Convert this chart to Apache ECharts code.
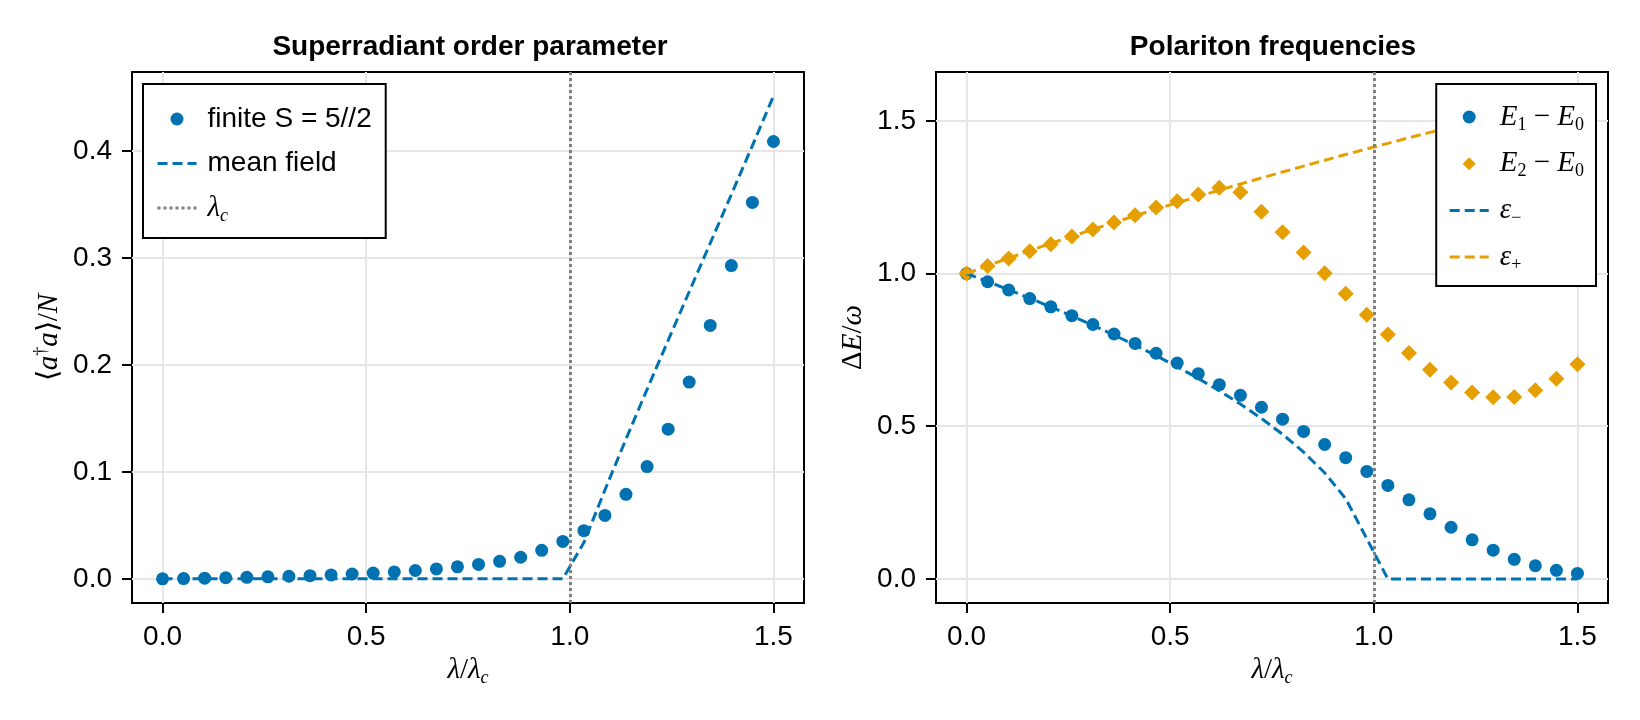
<!DOCTYPE html>
<html>
<head>
<meta charset="utf-8">
<title>Dicke model: order parameter and polariton frequencies</title>
<script src="https://cdn.jsdelivr.net/npm/echarts@6/dist/echarts.min.js"></script>
<style>
    html, body { margin: 0; padding: 0; background: #fff; }
    #chart { width: 1640px; height: 720px; }
</style>
</head>
<body>
<div id="chart"></div>
<script>
//coupling grid, lambda / lambda_c
var lambdaGrid = [0, 0.0517, 0.1034, 0.1552, 0.2069, 0.2586, 0.3103, 0.3621, 0.4138, 0.4655,
    0.5172, 0.5690, 0.6207, 0.6724, 0.7241, 0.7759, 0.8276, 0.8793, 0.9310, 0.9828,
    1.0345, 1.0862, 1.1379, 1.1897, 1.2414, 1.2931, 1.3448, 1.3966, 1.4483, 1.5];
var lambdaC = 1.0;
//<a+a>/N, finite S = 5/2
var photonFinite = [0.0000, 0.0002, 0.0006, 0.0010, 0.0014, 0.0019, 0.0024, 0.0030, 0.0037, 0.0045,
    0.0054, 0.0065, 0.0078, 0.0093, 0.0112, 0.0135, 0.0164, 0.0202, 0.0267, 0.0350,
    0.0450, 0.0593, 0.0790, 0.1050, 0.1400, 0.1840, 0.2370, 0.2930, 0.3520, 0.4090];
//<a+a>/N, mean field
var photonMeanField = [0, 0, 0, 0, 0, 0, 0, 0, 0, 0,
    0, 0, 0, 0, 0, 0, 0, 0, 0, 0,
    0.0339, 0.0831, 0.1307, 0.1772, 0.2230, 0.2685, 0.3139, 0.3594, 0.4052, 0.4514];
//E1 - E0
var gapOne = [1.000, 0.973, 0.946, 0.918, 0.891, 0.862, 0.833, 0.802, 0.771, 0.739,
    0.707, 0.672, 0.636, 0.601, 0.562, 0.523, 0.483, 0.440, 0.397, 0.352,
    0.306, 0.259, 0.213, 0.169, 0.128, 0.094, 0.064, 0.043, 0.028, 0.018];
//E2 - E0
var gapTwo = [1.000, 1.025, 1.049, 1.073, 1.096, 1.121, 1.144, 1.167, 1.191, 1.216,
    1.237, 1.259, 1.281, 1.266, 1.202, 1.135, 1.069, 1.001, 0.934, 0.865,
    0.800, 0.740, 0.685, 0.643, 0.610, 0.595, 0.596, 0.618, 0.655, 0.703];
//polariton branches
var epsMinus = [1.0000, 0.9738, 0.9469, 0.9191, 0.8906, 0.8610, 0.8305, 0.7987, 0.7656, 0.7311,
    0.6948, 0.6565, 0.6159, 0.5724, 0.5252, 0.4734, 0.4152, 0.3474, 0.2626, 0.1313,
    0, 0, 0, 0, 0, 0, 0, 0, 0, 0];
var epsPlus = [1.0000, 1.0255, 1.0504, 1.0748, 1.0986, 1.1219, 1.1447, 1.1671, 1.1890, 1.2106,
    1.2318, 1.2526, 1.2731, 1.2932, 1.3131, 1.3326, 1.3519, 1.3709, 1.3896, 1.4081,
    1.4264, 1.4444, 1.4622, 1.4798, 1.4971, 1.5143, 1.5313, 1.5481, 1.5647, 1.5811];
//tick labels
var lambdaTicks = [0, 0.5, 1.0, 1.5];
var photonTicks = [0, 0.1, 0.2, 0.3, 0.4];
var energyTicks = [0, 0.5, 1.0, 1.5];

var BLUE = '#0072B2';
var ORANGE = '#E69F00';
var GRAY = '#808080';
var SANS = 'Liberation Sans';
var SERIF = 'Liberation Serif';
//diamond legend icon, the corner points keep it from being stretched to 39x13
var DIAMOND_ICON = 'path://M0,0L0,0M39,13L39,13M19.5,-0.5L26.5,6.5L19.5,13.5L12.5,6.5Z';

//pairs for the library
function pairs(ys) {
    return lambdaGrid.map(function (x, i) {
        return [x, ys[i]];
    });
}

//latex-ish rich text
var mathRich = {
    it: { fontFamily: SERIF, fontStyle: 'italic', fontSize: 29, lineHeight: 34, color: '#000' },
    rm: { fontFamily: SERIF, fontSize: 29, lineHeight: 34, color: '#000' },
    sub: { fontFamily: SERIF, fontStyle: 'italic', fontSize: 18, lineHeight: 12, verticalAlign: 'bottom', color: '#000' },
    subrm: { fontFamily: SERIF, fontSize: 18, lineHeight: 12, verticalAlign: 'bottom', color: '#000' },
    sup: { fontFamily: SERIF, fontSize: 18, lineHeight: 14, verticalAlign: 'top', color: '#000' }
};

var legendLabels = {
    'finite S = 5//2': 'finite S = 5//2',
    'mean field': 'mean field',
    'λc': '{it|λ}{sub|c}',
    'E1−E0': '{it|E}{subrm|1}{rm| − }{it|E}{subrm|0}',
    'E2−E0': '{it|E}{subrm|2}{rm| − }{it|E}{subrm|0}',
    'ε−': '{it|ε}{subrm|−}',
    'ε+': '{it|ε}{subrm|+}'
};

//legend entries of line series: only the line, no dot
function lineEntry(name) {
    return { name: name, itemStyle: { opacity: 0 } };
}

function xAxisFor(gridIndex) {
    return {
        type: 'value',
        gridIndex: gridIndex,
        min: -0.075,
        max: 1.575,
        name: '{it|λ}{rm|/}{it|λ}{sub|c}',
        nameLocation: 'middle',
        nameGap: 46,
        nameTextStyle: { rich: mathRich },
        axisLine: { show: false, onZero: false },
        axisTick: { show: true, inside: false, length: 10, customValues: lambdaTicks, lineStyle: { color: '#000', width: 2 } },
        axisLabel: {
            customValues: lambdaTicks, margin: 20, fontSize: 28, fontFamily: SANS, color: '#000',
            formatter: function (v) { return v.toFixed(1); }
        },
        splitLine: { show: true, lineStyle: { color: '#e6e6e6', width: 2 } }
    };
}

function yAxisFor(gridIndex, min, max, ticks, name) {
    return {
        type: 'value',
        gridIndex: gridIndex,
        min: min,
        max: max,
        name: name,
        nameLocation: 'middle',
        nameRotate: 90,
        nameGap: 66,
        nameTextStyle: { rich: mathRich },
        axisLine: { show: false, onZero: false },
        axisTick: { show: true, inside: false, length: 10, customValues: ticks, lineStyle: { color: '#000', width: 2 } },
        axisLabel: {
            customValues: ticks, margin: 20, fontSize: 28, fontFamily: SANS, color: '#000',
            formatter: function (v) { return v.toFixed(1); }
        },
        splitLine: { show: true, lineStyle: { color: '#e6e6e6', width: 2 } }
    };
}

function legendFor(items, pos) {
    var lg = {
        orient: 'vertical',
        data: items,
        top: 84,
        padding: pos.padding,
        itemWidth: 39,
        itemHeight: 13,
        itemGap: pos.gap,
        symbolKeepAspect: true,
        borderColor: '#000',
        borderWidth: 2,
        borderRadius: 0,
        backgroundColor: '#fff',
        selectedMode: false,
        lineStyle: { width: 3 },
        textStyle: {
            fontFamily: SANS, fontSize: 28, color: '#000', lineHeight: 34,
            padding: [0, 0, 0, 6], rich: mathRich
        },
        formatter: function (name) {
            return legendLabels[name];
        }
    };
    if (pos.left !== undefined) lg.left = pos.left;
    if (pos.right !== undefined) lg.right = pos.right;
    return lg;
}

function vline(name, gridIndex) {
    return {
        name: name,
        type: 'line',
        xAxisIndex: gridIndex,
        yAxisIndex: gridIndex,
        data: [],
        symbol: 'none',
        itemStyle: { color: GRAY },
        lineStyle: { color: GRAY, width: 3, type: [3, 3] },
        z: 3,
        markLine: {
            silent: true,
            symbol: ['none', 'none'],
            label: { show: false },
            lineStyle: { color: GRAY, width: 3, type: [3, 3] },
            data: [{ xAxis: lambdaC }]
        }
    };
}

var chart = echarts.init(document.getElementById('chart'));
var option = {
    animation: false,
    backgroundColor: '#fff',
    title: [{
        text: 'Superradiant order parameter',
        left: 470,
        top: 33,
        textAlign: 'center',
        padding: 0,
        textStyle: { fontFamily: SANS, fontSize: 28, fontWeight: 'bold', color: '#000' }
    }, {
        text: 'Polariton frequencies',
        left: 1273,
        top: 33,
        textAlign: 'center',
        padding: 0,
        textStyle: { fontFamily: SANS, fontSize: 28, fontWeight: 'bold', color: '#000' }
    }],
    grid: [
        { left: 132, top: 72, width: 672, height: 531, show: true, borderColor: '#000', borderWidth: 2, backgroundColor: 'transparent', outerBoundsMode: 'none' },
        { left: 936, top: 72, width: 672, height: 531, show: true, borderColor: '#000', borderWidth: 2, backgroundColor: 'transparent', outerBoundsMode: 'none' }
    ],
    xAxis: [xAxisFor(0), xAxisFor(1)],
    yAxis: [
        yAxisFor(0, -0.0226, 0.474, photonTicks, '{rm|⟨}{it|a}{sup|†}{it|a}{rm|⟩/}{it|N}'),
        yAxisFor(1, -0.079, 1.660, energyTicks, '{rm|Δ}{it|E}{rm|/}{it|ω}')
    ],
    legend: [
        legendFor(['finite S = 5//2', lineEntry('mean field'), lineEntry('λc')],
            { left: 143, padding: [18, 14, 13, 13], gap: 10.5 }),
        legendFor(['E1−E0', { name: 'E2−E0', icon: DIAMOND_ICON }, lineEntry('ε−'), lineEntry('ε+')],
            { right: 44, padding: [16, 12, 12, 12], gap: 12.7 })
    ],
    series: [{
        name: 'finite S = 5//2',
        type: 'scatter',
        xAxisIndex: 0, yAxisIndex: 0,
        symbol: 'circle',
        symbolSize: 13,
        itemStyle: { color: BLUE, opacity: 1 },
        data: pairs(photonFinite)
    }, {
        name: 'mean field',
        type: 'line',
        xAxisIndex: 0, yAxisIndex: 0,
        symbol: 'none',
        itemStyle: { color: BLUE },
        lineStyle: { color: BLUE, width: 3, type: [10, 5] },
        data: pairs(photonMeanField)
    },
    vline('λc', 0),
    {
        name: 'E1−E0',
        type: 'scatter',
        xAxisIndex: 1, yAxisIndex: 1,
        symbol: 'circle',
        symbolSize: 13,
        itemStyle: { color: BLUE, opacity: 1 },
        data: pairs(gapOne)
    }, {
        name: 'E2−E0',
        type: 'scatter',
        xAxisIndex: 1, yAxisIndex: 1,
        symbol: 'diamond',
        symbolSize: 16,
        symbolKeepAspect: true,
        itemStyle: { color: ORANGE, opacity: 1 },
        data: pairs(gapTwo)
    }, {
        name: 'ε−',
        type: 'line',
        xAxisIndex: 1, yAxisIndex: 1,
        symbol: 'none',
        itemStyle: { color: BLUE },
        lineStyle: { color: BLUE, width: 3, type: [10, 5] },
        data: pairs(epsMinus)
    }, {
        name: 'ε+',
        type: 'line',
        xAxisIndex: 1, yAxisIndex: 1,
        symbol: 'none',
        itemStyle: { color: ORANGE },
        lineStyle: { color: ORANGE, width: 3, type: [10, 5] },
        data: pairs(epsPlus)
    },
    vline('λc right', 1)]
};
chart.setOption(option);
</script>
</body>
</html>
